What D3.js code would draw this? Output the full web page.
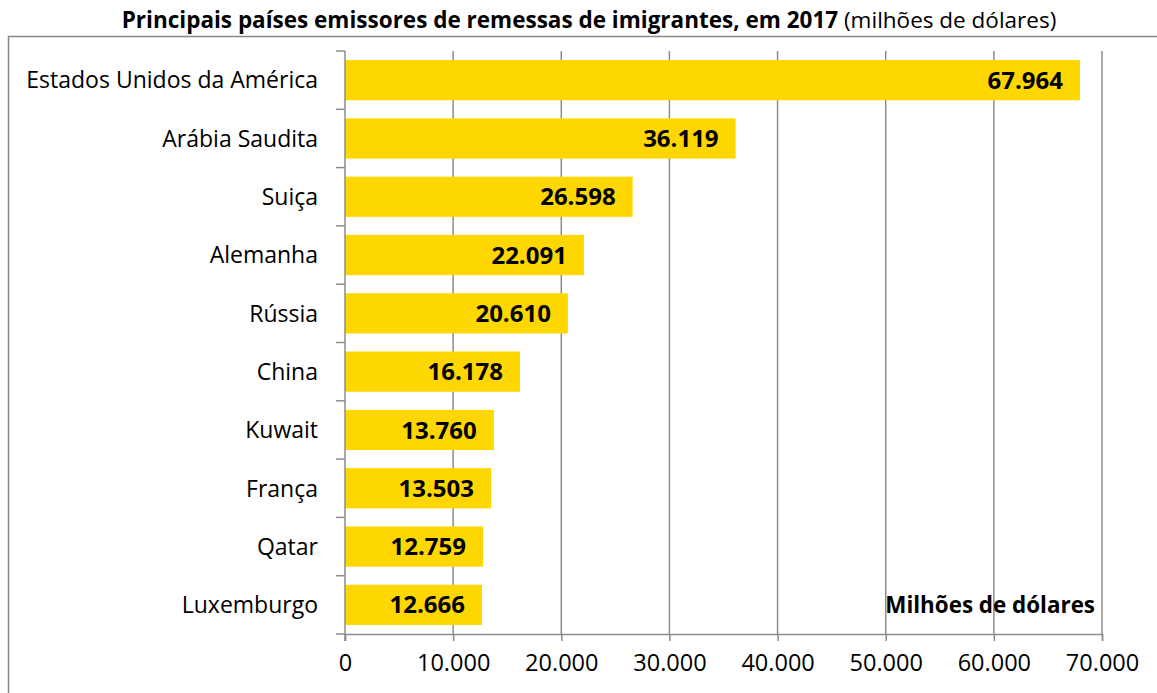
<!DOCTYPE html>
<html><head><meta charset="utf-8">
<script src="https://cdn.jsdelivr.net/npm/d3@7"></script>
<style>body{margin:0;background:#fff;} text{font-family:"Open Sans", Lato, sans-serif;}</style>
</head><body>
<svg id="c" width="1157" height="693"></svg>
<script>
const categories = ["Estados Unidos da América","Arábia Saudita","Suiça","Alemanha","Rússia","China","Kuwait","França","Qatar","Luxemburgo"];
const values = [67964,36119,26598,22091,20610,16178,13760,13503,12759,12666];
const tickValues = [0,10000,20000,30000,40000,50000,60000,70000];
const titleBold = "Principais países emissores de remessas de imigrantes, em 2017";
const titleNormal = " (milhões de dólares)";
const unitLabel = "Milhões de dólares";

const svg = d3.select("#c");
const fmt = d3.formatLocale({decimal:",",thousands:".",grouping:[3],currency:["",""]}).format(",d");
const m = {left:345, right:1102, top:51, bottom:634};
const x = d3.scaleLinear().domain([0,70000]).range([m.left,m.right]);
const y = d3.scaleBand().domain(categories).range([m.top,m.bottom]).paddingInner(0.31).paddingOuter(0.155);

// frame
svg.append("rect").attr("x",8.5).attr("y",36.5).attr("width",1160).attr("height",700)
  .attr("fill","none").attr("stroke","#868686").attr("stroke-width",1.5);

// title
const t = svg.append("text").attr("x",589).attr("y",28).attr("text-anchor","middle").attr("font-size",22.5).attr("fill","#000");
t.append("tspan").attr("font-weight","bold").text(titleBold);
t.append("tspan").text(titleNormal);

// gridlines
svg.append("g").selectAll("line").data(tickValues.slice(1)).join("line")
  .attr("x1",d=>x(d)).attr("x2",d=>x(d)).attr("y1",m.top).attr("y2",m.bottom)
  .attr("stroke","#8c8c8c").attr("stroke-width",1.5);

// bars
svg.append("g").selectAll("rect").data(values).join("rect")
  .attr("x",x(0)).attr("y",(d,i)=>y(categories[i]))
  .attr("width",d=>x(d)-x(0)).attr("height",y.bandwidth())
  .attr("fill","#FFD700");

// x axis
const xa = svg.append("g").attr("transform",`translate(0,${m.bottom})`)
  .call(d3.axisBottom(x).tickValues(tickValues).tickFormat(fmt).tickSize(7).tickPadding(13));
xa.select(".domain").attr("stroke","#8c8c8c").attr("stroke-width",1.5);
xa.selectAll(".tick line").attr("stroke","#8c8c8c").attr("stroke-width",1.5);
xa.selectAll(".tick text").attr("font-size",23.5).attr("fill","#000").attr("font-family","Open Sans");

// y axis line + category boundary ticks
const ya = svg.append("g");
ya.append("line").attr("x1",x(0)).attr("x2",x(0)).attr("y1",m.top).attr("y2",m.bottom+7)
  .attr("stroke","#8c8c8c").attr("stroke-width",1.5);
const bounds = d3.range(categories.length+1).map(i=>m.top + i*y.step());
ya.selectAll("line.tk").data(bounds).join("line").attr("class","tk")
  .attr("x1",x(0)-9).attr("x2",x(0)).attr("y1",d=>d).attr("y2",d=>d)
  .attr("stroke","#8c8c8c").attr("stroke-width",1.5);
ya.selectAll("text").data(categories).join("text")
  .attr("x",318).attr("y",d=>y(d)+y.bandwidth()/2).attr("dy","0.36em")
  .attr("text-anchor","end").attr("font-size",23).attr("fill","#000").text(d=>d);

// value labels
svg.append("g").selectAll("text").data(values).join("text")
  .attr("x",d=>x(d)-17).attr("y",(d,i)=>y(categories[i])+y.bandwidth()/2).attr("dy","0.36em")
  .attr("text-anchor","end").attr("font-size",24).attr("font-weight","bold").attr("fill","#000")
  .text(d=>fmt(d));

// unit label
svg.append("text").attr("x",1095).attr("y",613).attr("text-anchor","end")
  .attr("font-size",22.4).attr("font-weight","bold").attr("fill","#000").text(unitLabel);
</script>
</body></html>
